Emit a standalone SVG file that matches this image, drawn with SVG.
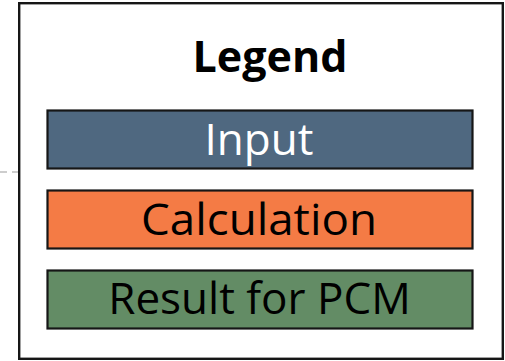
<svg xmlns="http://www.w3.org/2000/svg" width="505" height="361" viewBox="0 0 505 361">
  <style>
    .item { stroke: #161616; stroke-width: 2.2; }
    .lbl { font-family: "Open Sans", "Liberation Sans", sans-serif; font-size: 44px; text-anchor: middle; }
    .title { font-family: "Open Sans", "Liberation Sans", sans-serif; font-size: 43px; font-weight: bold; text-anchor: middle; fill: #000; }
  </style>
  <rect width="505" height="361" fill="#ffffff"/>
  <g id="connectors">
    <line x1="0" y1="172" x2="18" y2="172" stroke="#bdbdbd" stroke-width="1.5" stroke-dasharray="7 5"/>
  </g>
  <g id="legend-frame">
    <rect x="19.2" y="3.2" width="483.6" height="355.6" fill="#ffffff" stroke="#161616" stroke-width="2.4"/>
    <text class="title" x="270" y="72">Legend</text>
  </g>
  <g id="input">
    <rect class="item" x="47.5" y="110.5" width="425" height="58" fill="#4f6880"/>
    <text class="lbl" x="259" y="155" fill="#ffffff">Input</text>
  </g>
  <g id="calculation">
    <rect class="item" x="47.5" y="190.5" width="425" height="58" fill="#f47b45"/>
    <text class="lbl" x="259" y="235" fill="#000000" textLength="236" lengthAdjust="spacingAndGlyphs">Calculation</text>
  </g>
  <g id="result">
    <rect class="item" x="47.5" y="270.5" width="425" height="58" fill="#638c65"/>
    <text class="lbl" x="259.5" y="314" fill="#000000">Result for PCM</text>
  </g>
</svg>
